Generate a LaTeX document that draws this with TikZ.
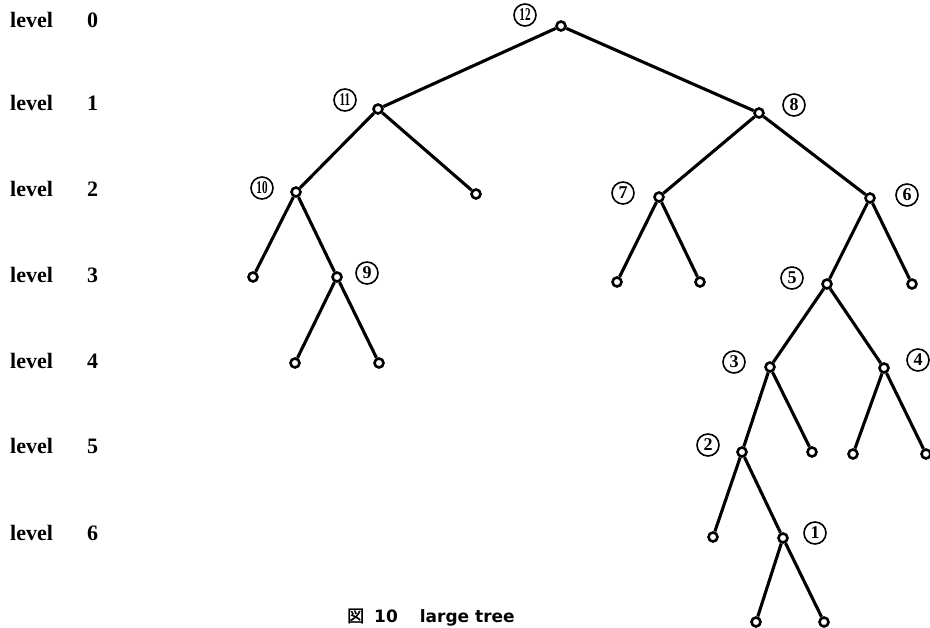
\documentclass[tikz,border=0pt]{standalone}
\usepackage{fontspec}
\setmainfont{Liberation Serif}
\newfontfamily\cjk{Noto Sans CJK JP}[FakeBold=2]
\newfontfamily\capfont{DejaVu Sans}
\begin{document}
\begin{tikzpicture}[x=1pt,y=-1pt,
  vert/.style={circle,draw,fill=white,line width=2.6pt,inner sep=0pt,minimum size=9pt},
  edge/.style={line width=3.1pt},
  cnum/.style={circle,draw,line width=1.6pt,inner sep=0pt,minimum size=22pt,font=\bfseries\fontsize{18}{18}\selectfont},
  lvl/.style={anchor=base west,inner sep=0pt,font=\bfseries\fontsize{22}{22}\selectfont}]
\useasboundingbox (0,0) rectangle (930,628);
% level labels
\foreach \i/\y in {0/21,1/104,2/190,3/276,4/362,5/447,6/533}
  \node[lvl] (lv\i) at (10,\y+7) {\makebox[77pt][l]{level}\i};
% vertices
\node[vert] (n12) at (561,26) {};
\node[vert] (n11) at (378,109) {};
\node[vert] (n8) at (759,113) {};
\node[vert] (n10) at (296,192) {};
\node[vert] (l11) at (476,194) {};
\node[vert] (n7) at (659,197) {};
\node[vert] (n6) at (870,198) {};
\node[vert] (l10) at (253,277) {};
\node[vert] (n9) at (337,277) {};
\node[vert] (l7a) at (617,282) {};
\node[vert] (l7b) at (700,282) {};
\node[vert] (n5) at (827,284) {};
\node[vert] (l6) at (912,284) {};
\node[vert] (l9a) at (295,363) {};
\node[vert] (l9b) at (379,363) {};
\node[vert] (n3) at (770,367) {};
\node[vert] (n4) at (884,368) {};
\node[vert] (n2) at (742,452) {};
\node[vert] (l3) at (812,452) {};
\node[vert] (l4a) at (853,454) {};
\node[vert] (l4b) at (926,454) {};
\node[vert] (l2) at (713,537) {};
\node[vert] (n1) at (783,538) {};
\node[vert] (l1a) at (756,622) {};
\node[vert] (l1b) at (824,622) {};
% edges
\foreach \a/\b in {n12/n11,n12/n8,n11/n10,n11/l11,n8/n7,n8/n6,n10/l10,n10/n9,
  n7/l7a,n7/l7b,n6/n5,n6/l6,n9/l9a,n9/l9b,n5/n3,n5/n4,n3/n2,n3/l3,n4/l4a,n4/l4b,
  n2/l2,n2/n1,n1/l1a,n1/l1b}
  \draw[edge] (\a) -- (\b);
% circled numbers
\node[cnum] (c12) at (525,15) {\scalebox{0.62}[1]{12}};
\node[cnum] (c11) at (345,100) {\scalebox{0.62}[1]{11}};
\node[cnum] (c10) at (262,188) {\scalebox{0.62}[1]{10}};
\node[cnum] (c9) at (367,273) {9};
\node[cnum] (c8) at (794,105) {8};
\node[cnum] (c7) at (623,193) {7};
\node[cnum] (c6) at (907,195) {6};
\node[cnum] (c5) at (792,278) {5};
\node[cnum] (c4) at (918,360) {4};
\node[cnum] (c3) at (734,362) {3};
\node[cnum] (c2) at (708,445) {2};
\node[cnum] (c1) at (815,533) {1};
% caption
\node[anchor=base west,inner sep=0pt,font=\fontsize{17}{17}\selectfont] (cap) at (347,622)
  {\cjk 図\hspace{10pt}\capfont\bfseries 10\hspace{22pt}large tree};
\end{tikzpicture}
\end{document}
